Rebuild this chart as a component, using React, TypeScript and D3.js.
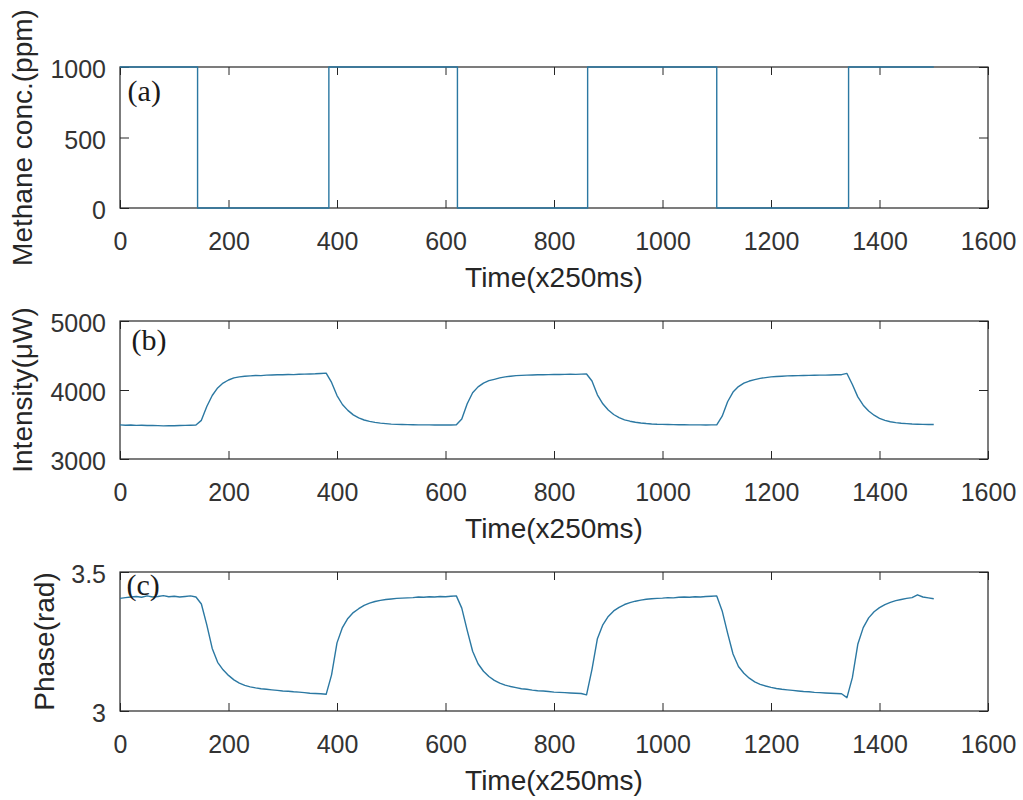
import React, { useEffect, useRef } from "react";
import * as d3 from "d3";

// time axis (units of 250 ms)
const timeTicks = [0, 200, 400, 600, 800, 1000, 1200, 1400, 1600];

// (a) methane concentration: switching instants and the level held after each
const methaneSwitchTimes = [0, 143, 385, 622, 862, 1100, 1343, 1500];
const methaneLevels = [1000, 0, 1000, 0, 1000, 0, 1000, 1000];

// sample clock for the measured traces (every 10 units)
const sampleTimes = d3.range(0, 1501, 10);

// (b) intensity in uW
const intensity = [
  3495, 3490, 3492, 3488, 3490, 3485, 3487, 3483, 3480, 3484, 3482, 3486, 3488, 3490, 3492,
  3560, 3760, 3920, 4030, 4100, 4145, 4175, 4190, 4200, 4205, 4210, 4208, 4215, 4218, 4220,
  4222, 4225, 4223, 4228, 4230, 4232, 4235, 4240, 4245,
  4110, 3920, 3790, 3705, 3640, 3595, 3565, 3545, 3530, 3520, 3512, 3505, 3502, 3500, 3498,
  3496, 3495, 3494, 3495, 3493, 3492, 3494, 3492, 3495,
  3580, 3800, 3960, 4045, 4100, 4135, 4155, 4175, 4190, 4200, 4208, 4212, 4215, 4218, 4220,
  4222, 4223, 4225, 4224, 4226, 4228, 4227, 4230, 4232,
  4130, 3930, 3800, 3710, 3645, 3600, 3568, 3548, 3533, 3522, 3514, 3508, 3504, 3502, 3500,
  3498, 3497, 3496, 3495, 3494, 3495, 3493, 3494, 3496,
  3620, 3830, 3970, 4050, 4100, 4130, 4150, 4168, 4180, 4190, 4196, 4200, 4204, 4206, 4208,
  4210, 4212, 4213, 4215, 4216, 4218, 4220, 4222, 4240,
  4080, 3900, 3780, 3695, 3635, 3590, 3560, 3540, 3527, 3518, 3512, 3507, 3504, 3502, 3500, 3501
];

// (c) phase in rad
const phase = [
  3.405, 3.408, 3.41, 3.412, 3.409, 3.414, 3.41, 3.412, 3.415, 3.411, 3.413, 3.41, 3.412, 3.414, 3.41,
  3.385, 3.31, 3.225, 3.175, 3.148, 3.128, 3.112, 3.1, 3.092, 3.087, 3.083, 3.08, 3.078, 3.076, 3.074,
  3.072, 3.071, 3.069, 3.068, 3.066, 3.064, 3.063, 3.062, 3.06,
  3.13, 3.245, 3.3, 3.333, 3.354, 3.368, 3.38, 3.388, 3.394, 3.398, 3.401, 3.403, 3.405, 3.406, 3.407,
  3.408, 3.41, 3.409, 3.411, 3.41, 3.412, 3.411, 3.413, 3.414,
  3.37, 3.29, 3.215, 3.17, 3.143, 3.124, 3.11, 3.1, 3.093, 3.088, 3.084, 3.08, 3.078, 3.075, 3.073,
  3.072, 3.07, 3.068, 3.067, 3.066, 3.065, 3.064, 3.063, 3.058,
  3.15, 3.26, 3.31, 3.34, 3.36, 3.373, 3.383, 3.39, 3.395, 3.399, 3.402, 3.404, 3.405, 3.406, 3.408,
  3.407, 3.409, 3.41, 3.409, 3.411, 3.41, 3.412, 3.413, 3.414,
  3.36, 3.28, 3.205, 3.16, 3.136, 3.118, 3.105, 3.096, 3.09, 3.085, 3.081, 3.078, 3.076, 3.074, 3.072,
  3.07, 3.069, 3.067, 3.066, 3.065, 3.064, 3.063, 3.062, 3.048,
  3.12, 3.24, 3.3, 3.335, 3.357, 3.372, 3.383, 3.391, 3.397, 3.401, 3.405, 3.408, 3.418, 3.41, 3.407, 3.404
];

const lineColor = "#2b78a2";
const inkColor = "#262626";

export default function App() {
  const svgRef = useRef<SVGSVGElement | null>(null);

  useEffect(() => {
    document.body.style.margin = "0";
    const svg = d3.select(svgRef.current);
    svg.selectAll("*").remove();

    const left = 120;
    const right = 988;

    const panels = [
      {
        tag: "(a)",
        tagAt: [14, 759],
        top: 67,
        bottom: 208,
        domain: [0, 1000],
        ticks: [0, 500, 1000],
        label: "Methane conc.(ppm)",
        labelX: 32,
        points: methaneSwitchTimes.map((t, i) => [t, methaneLevels[i]]),
        curve: d3.curveStepAfter
      },
      {
        tag: "(b)",
        tagAt: [21, 4580],
        top: 321,
        bottom: 459,
        domain: [3000, 5000],
        ticks: [3000, 4000, 5000],
        label: "Intensity(\u03bcW)",
        labelX: 32,
        points: sampleTimes.map((t, i) => [t, intensity[i]]),
        curve: d3.curveLinear
      },
      {
        tag: "(c)",
        tagAt: [12, 3.417],
        top: 572,
        bottom: 711,
        domain: [3, 3.5],
        ticks: [3, 3.5],
        label: "Phase(rad)",
        labelX: 54,
        points: sampleTimes.map((t, i) => [t, phase[i]]),
        curve: d3.curveLinear
      }
    ];

    const x = d3.scaleLinear().domain([0, 1600]).range([left, right]);

    const styleAxis = (sel) =>
      sel
        .attr("color", inkColor)
        .attr("font-size", 25)
        .attr("font-family", "'Liberation Sans', Arial, sans-serif")
        .call((a) => a.select(".domain").remove())
        .call((a) => a.selectAll("text").attr("fill", "#333"));

    panels.forEach((p) => {
      const y = d3.scaleLinear().domain(p.domain).range([p.bottom, p.top]);
      const g = svg.append("g");

      g.append("g")
        .attr("transform", `translate(0,${p.bottom})`)
        .call(
          d3.axisBottom(x).tickValues(timeTicks).tickSize(-8).tickSizeOuter(0).tickPadding(24).tickFormat(d3.format("d"))
        )
        .call(styleAxis);

      g.append("g")
        .attr("transform", `translate(0,${p.top})`)
        .call(d3.axisTop(x).tickValues(timeTicks).tickSize(-8).tickSizeOuter(0).tickFormat(() => ""))
        .call(styleAxis);

      g.append("g")
        .attr("transform", `translate(${left},0)`)
        .call(
          d3.axisLeft(y).tickValues(p.ticks).tickSize(-9).tickSizeOuter(0).tickPadding(14).tickFormat(d3.format("~g"))
        )
        .call(styleAxis)
        .call((a) => a.selectAll("text").attr("dy", "0.42em"));

      g.append("g")
        .attr("transform", `translate(${right},0)`)
        .call(d3.axisRight(y).tickValues(p.ticks).tickSize(-9).tickSizeOuter(0).tickFormat(() => ""))
        .call(styleAxis);

      g.append("rect")
        .attr("x", left)
        .attr("y", p.top)
        .attr("width", right - left)
        .attr("height", p.bottom - p.top)
        .attr("fill", "none")
        .attr("stroke", inkColor)
        .attr("stroke-width", 1.2);

      const line = d3
        .line()
        .x((d) => x(d[0]))
        .y((d) => y(d[1]))
        .curve(p.curve);

      g.append("path")
        .datum(p.points)
        .attr("fill", "none")
        .attr("stroke", lineColor)
        .attr("stroke-width", 1.4)
        .attr("stroke-linejoin", "round")
        .attr("d", line);

      g.append("text")
        .attr("x", x(p.tagAt[0]))
        .attr("y", y(p.tagAt[1]))
        .attr("font-family", "'Liberation Serif', 'Times New Roman', serif")
        .attr("font-size", 30)
        .attr("fill", "#1a1a1a")
        .text(p.tag);

      g.append("text")
        .attr("x", (left + right) / 2)
        .attr("y", p.bottom + 79)
        .attr("text-anchor", "middle")
        .attr("font-family", "'Liberation Sans', Arial, sans-serif")
        .attr("font-size", 28)
        .attr("fill", inkColor)
        .text("Time(x250ms)");

      g.append("text")
        .attr("transform", `translate(${p.labelX},${(p.top + p.bottom) / 2}) rotate(-90)`)
        .attr("text-anchor", "middle")
        .attr("font-family", "'Liberation Sans', Arial, sans-serif")
        .attr("font-size", 28)
        .attr("fill", inkColor)
        .text(p.label);
    });
  }, []);

  return <svg ref={svgRef} width={1023} height={800} style={{ display: "block", background: "#fff" }} />;
}
